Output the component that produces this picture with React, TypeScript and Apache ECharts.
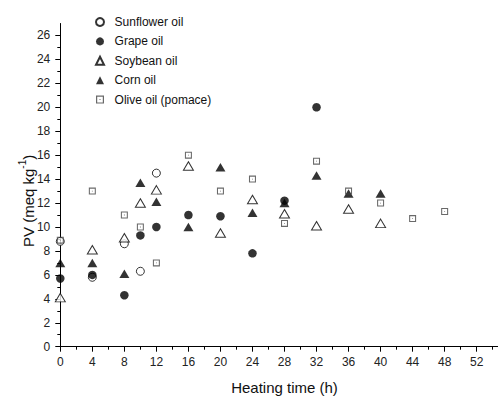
import React, { useEffect, useRef } from "react";
import * as echarts from "echarts";

const sunflower: [number, number][] = [[0, 8.8], [4, 5.8], [8, 8.6], [10, 6.3], [12, 14.5]];
const grape: [number, number][] = [[0, 5.7], [4, 6.0], [8, 4.3], [10, 9.3], [12, 10.0], [16, 11.0], [20, 10.9], [24, 7.8], [28, 12.2], [32, 20.0]];
const soybean: [number, number][] = [[0, 4.1], [4, 8.1], [8, 9.1], [10, 12.0], [12, 13.1], [16, 15.1], [20, 9.5], [24, 12.3], [28, 11.1], [32, 10.1], [36, 11.5], [40, 10.3]];
const corn: [number, number][] = [[0, 7.0], [4, 7.0], [8, 6.1], [10, 13.7], [12, 12.1], [16, 10.0], [20, 15.0], [24, 11.2], [28, 12.0], [32, 14.3], [36, 12.8], [40, 12.8]];
const olive: [number, number][] = [[0, 8.9], [4, 13.0], [8, 11.0], [10, 10.0], [12, 7.0], [16, 16.0], [20, 13.0], [24, 14.0], [28, 10.3], [32, 15.5], [36, 13.0], [40, 12.0], [44, 10.7], [48, 11.3]];

const seriesNames = ["Sunflower oil", "Grape oil", "Soybean oil", "Corn oil", "Olive oil (pomace)"];
const yTickValues = [0, 2, 4, 6, 8, 10, 12, 14, 16, 18, 20, 22, 24, 26];
const xLastLabel = 52;

const squareDot = "path://M0,0H10V10H0Z M1.5,1.5V8.5H8.5V1.5Z M4.4,4.4H5.6V5.6H4.4Z";
const FONT = "'Liberation Sans', Arial, sans-serif";

export default function App() {
  const ref = useRef<HTMLDivElement>(null);
  useEffect(() => {
    if (!ref.current) return;
    const chart = echarts.init(ref.current, null, { renderer: "svg" });
    const open = { color: "#fff", borderColor: "#000", borderWidth: 1 };
    const filled = { color: "#000", borderWidth: 0 };
    const mainText = "PV (meq kg";
    const main = echarts.format.getTextRect
      ? (echarts.format as any).getTextRect?.(mainText, `15px ${FONT}`)
      : null;
    const mainW = main && main.width ? main.width : 78.4;
    const supW = 8.9;
    chart.setOption({
      animation: false,
      backgroundColor: "#fff",
      textStyle: { fontFamily: FONT },
      grid: { left: 60.3, right: -10.7, top: 23.5, bottom: 49.3, containLabel: false, outerBoundsMode: "none" },
      legend: {
        orient: "vertical",
        left: 90,
        top: 10,
        itemWidth: 8,
        itemHeight: 8,
        itemGap: 5.4,
        textStyle: { fontSize: 12, color: "#111", fontFamily: FONT, lineHeight: 14, padding: [0, 0, 0, 5.6] },
        data: seriesNames,
      },
      xAxis: {
        type: "value",
        min: 0,
        max: 56,
        interval: 4,
        name: "Heating time (h)",
        nameLocation: "middle",
        nameGap: 33,
        nameTextStyle: { fontSize: 15, color: "#111", fontFamily: FONT },
        splitLine: { show: false },
        axisLine: { show: true, onZero: false, lineStyle: { color: "#000", width: 1 } },
        axisTick: { show: true, inside: false, length: 5, lineStyle: { color: "#000" } },
        minorTick: { show: true, splitNumber: 2, length: 3, lineStyle: { color: "#000" } },
        axisLabel: {
          fontSize: 12,
          color: "#222",
          margin: 9,
          fontFamily: FONT,
          formatter: (v: number) => (v <= xLastLabel ? String(v) : ""),
        },
      },
      yAxis: {
        type: "value",
        min: 0,
        max: 27,
        interval: 2,
        splitLine: { show: false },
        axisLine: { show: true, onZero: false, lineStyle: { color: "#000", width: 1 } },
        axisTick: { show: true, inside: false, length: 5, lineStyle: { color: "#000" }, customValues: yTickValues },
        minorTick: { show: true, splitNumber: 2, length: 3, lineStyle: { color: "#000" } },
        axisLabel: {
          fontSize: 12,
          color: "#222",
          margin: 10,
          fontFamily: FONT,
          customValues: yTickValues,
        },
      },
      graphic: [
        {
          type: "group",
          x: 28,
          y: 247,
          rotation: Math.PI / 2,
          children: [
            {
              type: "text",
              x: 0,
              y: 0,
              style: { text: mainText, align: "left", verticalAlign: "middle", fill: "#111", fontSize: 15, fontFamily: FONT },
            },
            {
              type: "text",
              x: mainW,
              y: -6,
              style: { text: "-1", align: "left", verticalAlign: "middle", fill: "#111", fontSize: 10, fontFamily: FONT },
            },
            {
              type: "text",
              x: mainW + supW,
              y: 0,
              style: { text: ")", align: "left", verticalAlign: "middle", fill: "#111", fontSize: 15, fontFamily: FONT },
            },
          ],
        },
      ],
      series: [
        { name: seriesNames[0], type: "scatter", data: sunflower, symbol: "circle", symbolSize: 8, itemStyle: open, clip: false },
        { name: seriesNames[1], type: "scatter", data: grape, symbol: "circle", symbolSize: 8.5, itemStyle: filled, clip: false },
        { name: seriesNames[2], type: "scatter", data: soybean, symbol: "triangle", symbolSize: [10, 8.5], itemStyle: open, clip: false },
        { name: seriesNames[3], type: "scatter", data: corn, symbol: "triangle", symbolSize: [10, 8.5], itemStyle: filled, clip: false },
        { name: seriesNames[4], type: "scatter", data: olive, symbol: squareDot, symbolSize: 7, itemStyle: { color: "#444", borderWidth: 0 }, clip: false },
      ],
    });
    return () => chart.dispose();
  }, []);
  return (
    <div style={{ position: "fixed", left: 0, top: 0, width: 498, height: 396, overflow: "hidden", background: "#fff" }}>
      <div ref={ref} style={{ width: 498, height: 396 }} />
    </div>
  );
}
